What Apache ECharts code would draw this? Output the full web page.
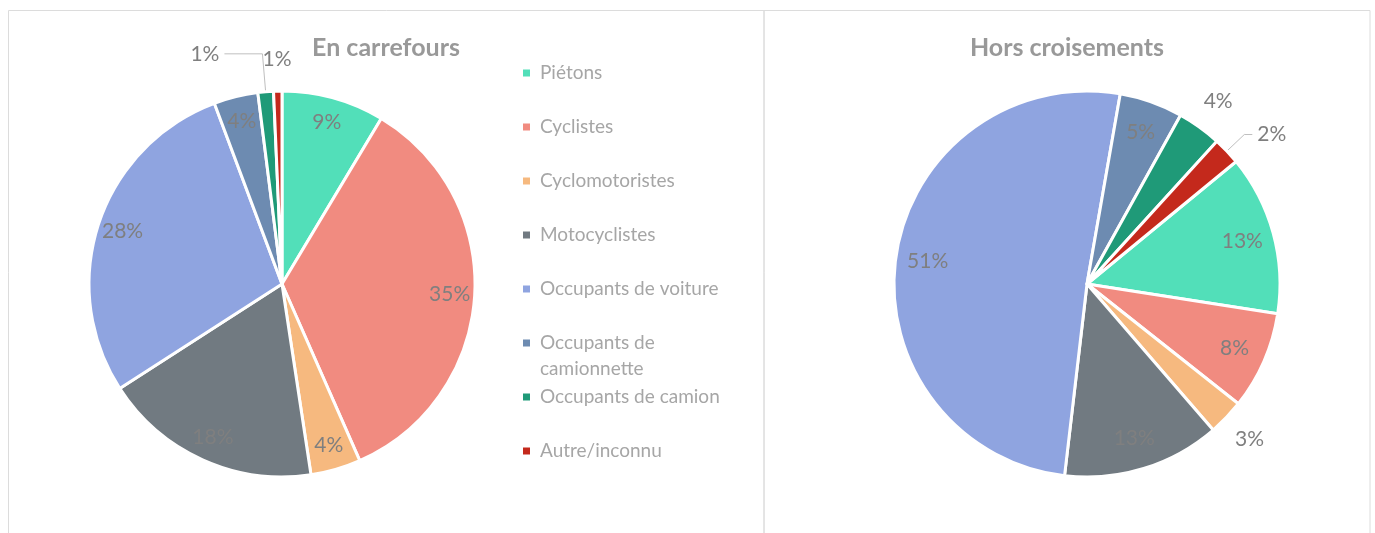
<!DOCTYPE html>
<html>
<head>
<meta charset="utf-8">
<script src="https://cdn.jsdelivr.net/npm/echarts@6/dist/echarts.min.js"></script>
<style>
  html, body { margin: 0; padding: 0; background: #fff; }
  #chart { width: 1375px; height: 533px; }
</style>
</head>
<body>
<div id="chart"></div>
<script>
// data (percent of victims)
const categories = ['Piétons', 'Cyclistes', 'Cyclomotoristes', 'Motocyclistes', 'Occupants de voiture', 'Occupants de camionnette', 'Occupants de camion', 'Autre/inconnu']
const carrefours = [8.6, 34.8, 4.2, 18.3, 28.4, 3.7, 1.3, 0.7]
const horsCroisements = [13.4, 8.2, 3.0, 13.2, 50.9, 5.3, 3.7, 2.3]
const titles = ['En carrefours', 'Hors croisements']

const colors = ['#52dfb9', '#f18b80', '#f6b97f', '#717a81', '#8fa4e0', '#6d8bb1', '#1f9a78', '#c4291c']
const font = 'Lato, "Open Sans", sans-serif'
const R = 193

// where each slice label goes: in = inside, end = just outside, leader = outside with a line
const leftPlacement = ['in', 'in', 'in', 'in', 'in', 'in', 'leader', 'end']
const rightPlacement = ['in', 'in', 'end', 'in', 'in', 'in', 'end', 'leader']

const labelText = {
  color: '#7f7f7f',
  fontSize: 21,
  fontFamily: font,
  textBorderWidth: 0,
  formatter: p => Math.round(p.percent) + '%'
}

function pieSeries(values, center, startAngle, placement, ringInner, leader) {
  const base = {
    type: 'pie',
    center: center,
    startAngle: startAngle,
    clockwise: true,
    silent: true,
    avoidLabelOverlap: false,
    animation: false
  }
  // the slices themselves
  const main = Object.assign({}, base, {
    radius: R,
    label: { show: false },
    labelLine: { show: false },
    itemStyle: { borderColor: '#fff', borderWidth: 3 },
    data: categories.map((name, i) => ({ name: name, value: values[i], itemStyle: { color: colors[i] } }))
  })
  // transparent ring carrying the inside labels and the leader-line labels
  const inner = Object.assign({}, base, {
    radius: [ringInner, R],
    itemStyle: { color: 'transparent' },
    label: labelText,
    labelLine: { show: false },
    data: categories.map((name, i) => {
      const item = { name: name, value: values[i] }
      if (placement[i] === 'in') {
        item.label = { show: true, position: 'inside' }
      } else if (placement[i] === 'leader') {
        item.label = { show: true, position: 'outside' }
        item.labelLine = { show: true, length: leader[0], length2: leader[1], smooth: false, lineStyle: { color: '#bfbfbf', width: 1 } }
      } else {
        item.label = { show: false }
      }
      return item
    })
  })
  // transparent ring just outside the pie for the small end labels
  const outer = Object.assign({}, base, {
    radius: [R, R * 1.3],
    itemStyle: { color: 'transparent' },
    label: labelText,
    labelLine: { show: false },
    data: categories.map((name, i) => ({
      name: name,
      value: values[i],
      label: { show: placement[i] === 'end', position: 'inside' }
    }))
  })
  return [main, inner, outer]
}

const chart = echarts.init(document.getElementById('chart'))

const titleStyle = {
  color: '#999999',
  fontSize: 25,
  fontWeight: 'bold',
  fontFamily: font
}

const legendBase = {
  orient: 'vertical',
  left: 523,
  padding: 0,
  icon: 'rect',
  itemWidth: 7,
  itemHeight: 7,
  itemGap: 28,
  itemStyle: { borderWidth: 0 },
  selectedMode: false,
  textStyle: {
    fontFamily: font,
    fontSize: 19,
    color: '#a6a6a6',
    lineHeight: 26,
    width: 200,
    overflow: 'break',
    padding: [0, 0, 0, 5]
  }
}

const options = {
  backgroundColor: '#ffffff',
  animation: false,
  title: [{
    text: titles[0],
    left: 386,
    top: 35,
    textAlign: 'center',
    padding: 0,
    textStyle: titleStyle
  }, {
    text: titles[1],
    left: 1067,
    top: 35,
    textAlign: 'center',
    padding: 0,
    textStyle: titleStyle
  }],
  // three legend blocks so the wrapped "camionnette" entry keeps its marker
  // on the first line while the others stay on the regular spacing
  legend: [
    Object.assign({}, legendBase, {
      top: 60,
      data: categories.slice(0, 5)
    }),
    Object.assign({}, legendBase, {
      top: 304,
      formatter: name => '\n' + name,
      data: categories.slice(5, 6)
    }),
    Object.assign({}, legendBase, {
      top: 384,
      data: categories.slice(6)
    })
  ],
  graphic: [{
    type: 'rect',
    silent: true,
    z: -10,
    shape: { x: 8.5, y: 10.5, width: 755.5, height: 540 },
    style: { fill: 'none', stroke: '#dcdcdc', lineWidth: 1 }
  }, {
    type: 'rect',
    silent: true,
    z: -10,
    shape: { x: 764, y: 10.5, width: 606, height: 540 },
    style: { fill: 'none', stroke: '#dcdcdc', lineWidth: 1 }
  }],
  series: [].concat(
    pieSeries(carrefours, [282, 284], 90, leftPlacement, 137, [38, 38]),
    pieSeries(horsCroisements, [1087, 284], 39.4, rightPlacement, 123, [24, 8])
  )
}

chart.setOption(options)
</script>
</body>
</html>
